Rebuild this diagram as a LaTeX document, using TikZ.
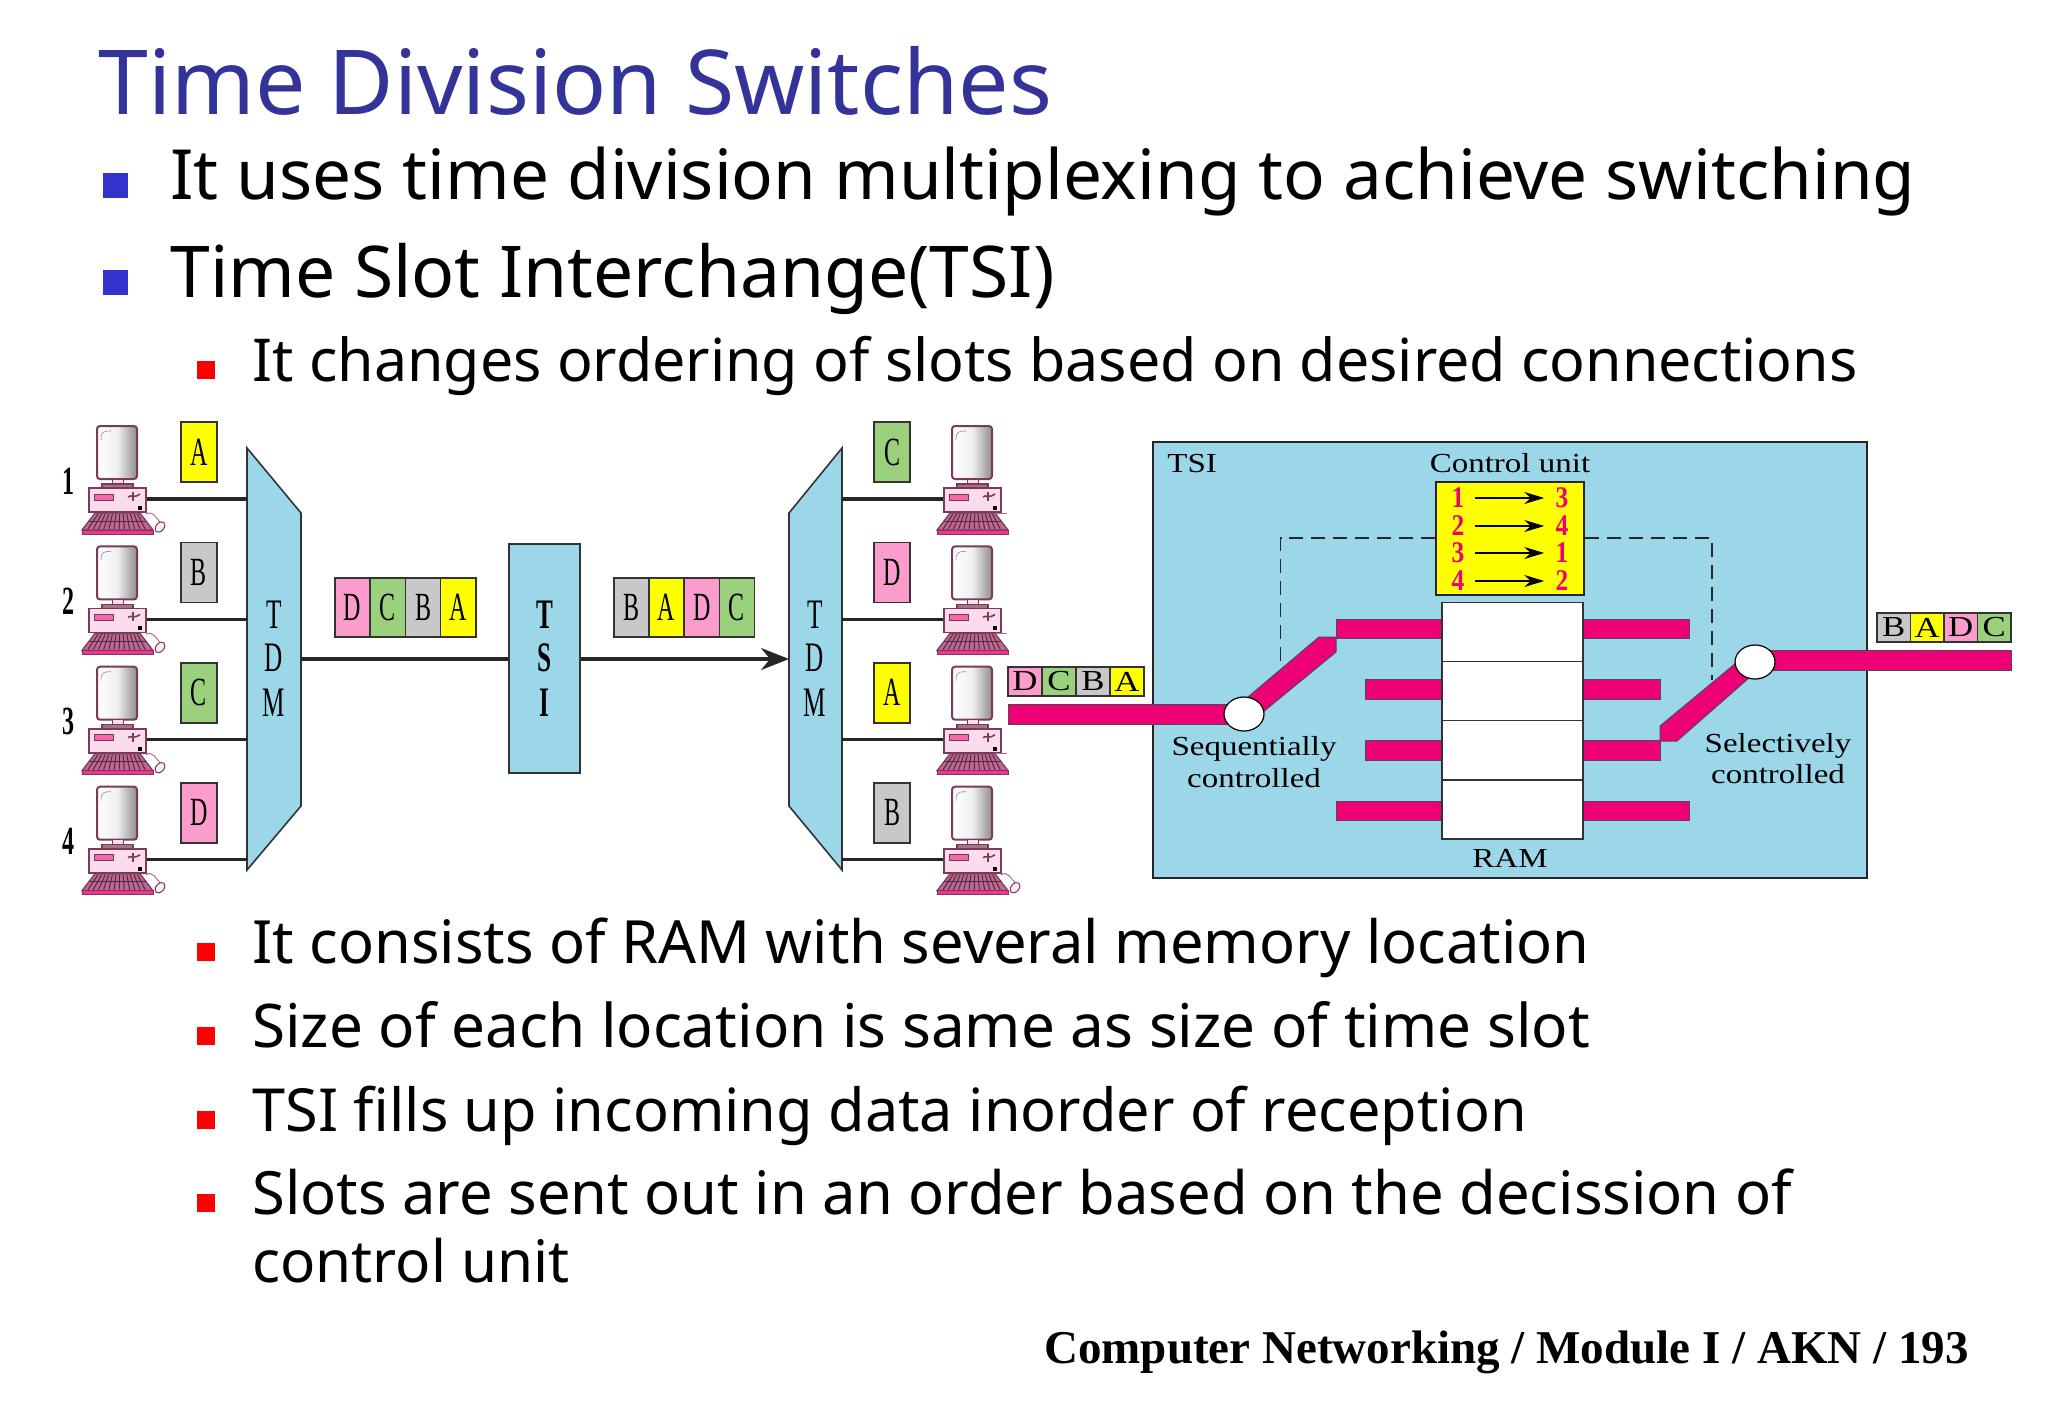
\documentclass[tikz,border=0pt]{standalone}
\usepackage{fontspec}
\usetikzlibrary{arrows.meta,shapes.geometric}
\setmainfont{Noto Sans}
\newfontfamily\figfont[FakeStretch=0.6]{Liberation Serif}
\newfontfamily\panelfont[FakeStretch=1.2]{Liberation Serif}
\newfontfamily\mapfont[FakeStretch=0.85]{Liberation Serif}
\newfontfamily\numfont{Liberation Serif}
\definecolor{titleblue}{HTML}{333399}
\definecolor{bulletblue}{HTML}{3333CC}
\definecolor{panelblue}{HTML}{9BD7E9}
\definecolor{barpink}{HTML}{EE0077}
\definecolor{slotA}{HTML}{FFFF00}
\definecolor{slotB}{HTML}{C8C8C8}
\definecolor{slotC}{HTML}{9BD07C}
\definecolor{slotD}{HTML}{FB9CCC}
\definecolor{pcline}{HTML}{7A3A58}
\definecolor{pccase}{HTML}{FBDCEC}
\tikzset{
	bigtext/.style={anchor=base west,inner sep=0pt,font=\fontsize{#1}{#1}\selectfont},
	subtext/.style={anchor=base west,inner sep=0pt,font=\fontsize{#1}{#1}\selectfont},
	bigbullet/.style={fill=bulletblue,inner sep=0pt,minimum size=12.5pt},
	subbullet/.style={fill=red,inner sep=0pt,minimum size=9pt},
	slotbox/.style={draw=black!80,line width=.8pt,inner sep=0pt,minimum width=18pt,minimum height=30pt,font=\figfont\fontsize{20}{20}\selectfont},
	cellbox/.style={draw=black!80,line width=.8pt,inner sep=0pt,minimum width=17.6pt,minimum height=29.5pt,font=\figfont\fontsize{20}{20}\selectfont},
	smallcell/.style={draw=black!80,line width=.6pt,inner sep=0pt,minimum width=17pt,minimum height=14.5pt,font=\panelfont\fontsize{14.5}{14.5}\selectfont},
	smallcellb/.style={smallcell,minimum width=16.75pt},
	wire/.style={draw=black!85,line width=1.6pt},
	muxbody/.style={draw=black!80,line width=.8pt,fill=panelblue},
	muxtext/.style={inner sep=0pt,font=\figfont\fontsize{21}{21}\selectfont},
	panellabel/.style={inner sep=0pt,anchor=base,font=\panelfont\fontsize{13.75}{13.75}\selectfont},
	bar/.style={draw=black!70,line width=.5pt,fill=barpink},
	ramcell/.style={draw=black!80,line width=.8pt,fill=white,inner sep=0pt,minimum width=70.7pt,minimum height=29.5pt},
	mapnum/.style={inner sep=0pt,text=barpink,font=\mapfont\bfseries\fontsize{15}{15}\selectfont},
	switchpt/.style={ellipse,draw=black,line width=.6pt,fill=white,inner sep=0pt,minimum width=20pt,minimum height=17pt},
	computer/.pic={
		\draw[pcline,line width=1pt,rounded corners=1.5pt,left color=white,right color=black!45,middle color=black!6] (16,0) rectangle (56,53);
		\draw[black!45,line width=.3pt] (20,14) .. controls (20,6) and (22,5) .. (30,5);
		\draw[pcline,line width=.4pt,fill=pccase] (31,53) rectangle (42,58);
		\draw[pcline,line width=.6pt,fill=pcline!70] (21,58) rectangle (52,62);
		\node[draw=pcline,line width=.8pt,fill=pccase,inner sep=0pt,minimum width=28.5pt,minimum height=12pt] (case) at (36.5,74) {};
		\draw[pcline,line width=.5pt,fill=barpink!60] (13,68) rectangle (32,74);
		\draw[pcline,line width=.8pt] (47,71) .. controls (50,68) and (52,73) .. (59,68);
		\draw[pcline,line width=.8pt] (52,66) -- (52,75);
		\fill[black] (57,80) rectangle (61,84);
		\draw[pcline,line width=.6pt,fill=barpink!35!pcline!70] (14,87) -- (59,87) -- (72,104) -- (1,104) -- cycle;
		\foreach \kx in {0,...,11}
			\draw[pcline!70!black,line width=.5pt] ({17+\kx*3.6},88) -- ({7+\kx*5.2},103);
		\draw[pcline!70!black,line width=.5pt] (8,95) -- (65,95);
		\draw[pcline,line width=.5pt,fill=barpink!80] (1,104) rectangle (72,108);
	},
	pcmouse/.pic={
		\draw[pcline!70,line width=.5pt] (65,88) .. controls (72,84) and (75,92) .. (79,96);
		\draw[pcline,line width=.5pt,fill=pccase!50,rotate around={-40:(79,101)}] (79,101) ellipse (4 and 6);
	},
	pcstub/.pic={
		\draw[pcline!70,line width=.5pt] (59,87) -- (71,87);
	},
}
\begin{document}
\begin{tikzpicture}[x=.5pt,y=-.5pt]
	\useasboundingbox (0,0) rectangle (2048,1418);
	% texts of the slide
	\node[anchor=base west,inner sep=0pt,text=titleblue,font=\fontsize{44.8}{44.8}\selectfont] (title) at (98,114) {Time Division Switches};
	\node[bigbullet] (dotA) at (115,185) {};
	\node[bigtext=34.6] (lineA) at (170,199) {It uses time division multiplexing to achieve switching};
	\node[bigbullet] (dotB) at (115,282) {};
	\node[bigtext=35.7] (lineB) at (170,297) {Time Slot Interchange(TSI)};
	\node[subbullet] (dotC) at (206,370) {};
	\node[subtext=29.55] (lineC) at (252,381) {It changes ordering of slots based on desired connections};
	%
	\node[subbullet] (dotD) at (206,952) {};
	\node[subtext=29.8] (lineD) at (252,963) {It consists of RAM with several memory location};
	\node[subbullet] (dotE) at (206,1036) {};
	\node[subtext=30.1] (lineE) at (252,1047) {Size of each location is same as size of time slot};
	\node[subbullet] (dotF) at (206,1120) {};
	\node[subtext=29.7] (lineF) at (252,1131) {TSI fills up incoming data inorder of reception};
	\node[subbullet] (dotG) at (206,1203) {};
	\node[subtext=29.85] (lineG) at (252,1214) {Slots are sent out in an order based on the decission of};
	\node[subtext=29.2] (lineH) at (252,1282) {control unit};
	\node[anchor=base east,inner sep=0pt,font=\numfont\bfseries\fontsize{23.5}{23.5}\selectfont] (footer) at (1969,1363) {Computer Networking / Module I / AKN / 193};
	% the two multiplexers and the TSI box
	\draw[muxbody] (247,448) -- (301,513) -- (301,806) -- (247,870) -- cycle;
	\draw[muxbody] (842,448) -- (789,513) -- (789,806) -- (842,870) -- cycle;
	\node[draw=black!80,line width=.8pt,fill=panelblue,minimum width=35.5pt,minimum height=114.5pt,inner sep=0pt] (tsibox) at (544.5,658.5) {};
	\foreach \lab/\yy in {T/615,D/658,M/703} {
		\node[muxtext] (muxL\lab) at (274,\yy) {\lab};
		\node[muxtext] (muxR\lab) at (815,\yy) {\lab};
	}
	\foreach \lab/\yy in {T/615,S/658,I/703}
		\node[muxtext,font=\figfont\bfseries\fontsize{21}{21}\selectfont] (tsi\lab) at (544.5,\yy) {\lab};
	\coordinate (muxLout) at (301,659);
	\coordinate (muxRin) at (789,659);
	\draw[wire] (muxLout) -- (tsibox.west |- muxLout);
	\draw[wire,-{Stealth[length=14pt,width=11pt]}] (tsibox.east |- muxRin) -- (muxRin);
	% the computers on both sides
	\foreach \i/\yy/\lab/\labR in {1/0/A/C,2/120.4/B/D,3/240.7/C/A,4/360.7/D/B} {
		\pic (pcL\i) at (81,426+\yy) {computer};
		\pic (pcLm\i) at (81,426+\yy) {pcmouse};
		\pic (pcR\i) at (936,426+\yy) {computer};
		\coordinate (muxLin\i) at (247,499+\yy);
		\coordinate (muxRout\i) at (842,499+\yy);
		\draw[wire] (pcL\i case.east |- muxLin\i) -- (muxLin\i);
		\draw[wire] (muxRout\i) -- (pcR\i case.west |- muxRout\i);
		\node[slotbox,fill=slot\lab] (slotL\i) at (199,452+\yy) {\lab};
		\node[slotbox,fill=slot\labR] (slotR\i) at (892,452+\yy) {\labR};
		\node[inner sep=0pt,font=\figfont\bfseries\fontsize{20}{20}\selectfont] (num\i) at (68,481+\yy) {\i};
	}
	\foreach \i/\yy in {1/0,2/120.4,3/240.7}
		\pic (pcRs\i) at (936,426+\yy) {pcstub};
	\pic (pcRm4) at (936,786.7) {pcmouse};
	% slot rows next to the main line
	\foreach \lab [count=\n from 0] in {D,C,B,A}
		\node[cellbox,fill=slot\lab] (rowA\lab) at ({352.6+35.2*\n},607.5) {\lab};
	\foreach \lab [count=\n from 0] in {B,A,D,C}
		\node[cellbox,fill=slot\lab] (rowB\lab) at ({631.3+35.2*\n},607.5) {\lab};
	%
	% the TSI panel
	\node[draw=black!85,line width=.8pt,fill=panelblue,minimum width=357pt,minimum height=218pt,inner sep=0pt] (panel) at (1510,660) {};
	\node[panellabel,anchor=base west] (panelname) at (1167,472) {TSI};
	\node[panellabel] (ctrlname) at (1510,472) {Control unit};
	\node[panellabel] (ramname) at (1510,867) {RAM};
	\node[panellabel] (seqA) at (1254,755) {Sequentially};
	\node[panellabel] (seqB) at (1254,787) {controlled};
	\node[panellabel] (selA) at (1778,752) {Selectively};
	\node[panellabel] (selB) at (1778,783) {controlled};
	%
	\node[draw=black!85,line width=.8pt,fill=slotA,minimum width=74pt,minimum height=56.5pt,inner sep=0pt] (ctrl) at (1510,538.5) {};
	\coordinate (dashLtop) at (1280.6,538);
	\coordinate (dashLend) at (1280.6,667);
	\coordinate (dashRtop) at (1712,538);
	\coordinate (dashRend) at (1712,680);
	\draw[black!85,line width=.8pt,dash pattern=on 7pt off 4pt] (ctrl.west |- dashLtop) -- (dashLtop) -- (dashLend);
	\draw[black!85,line width=.8pt,dash pattern=on 7pt off 4pt] (ctrl.east |- dashRtop) -- (dashRtop) -- (dashRend);
	\foreach \i/\a/\b/\yy in {1/1/3/498,2/2/4/526,3/3/1/553,4/4/2/581} {
		\node[mapnum] (mapA\i) at (1458,\yy) {\a};
		\node[mapnum] (mapB\i) at (1562,\yy) {\b};
		\draw[black,line width=.7pt,shorten <=5pt,shorten >=5.5pt,-{Stealth[length=10pt,width=6pt]}] (mapA\i) -- (mapB\i);
	}
	% the bars, then the RAM over them
	\draw[bar] (1336,619) rectangle (1442,638);
	\draw[bar] (1365,679) rectangle (1442,699);
	\draw[bar] (1365,740) rectangle (1442,760);
	\draw[bar] (1336,801) rectangle (1442,820);
	\draw[bar] (1583,619) rectangle (1689,638);
	\draw[bar] (1583,679) rectangle (1660,699);
	\draw[bar] (1583,801) rectangle (1689,820);
	\draw[bar] (1660,726) -- (1736,663) -- (1750,677) -- (1677,741) -- (1660,741) -- cycle;
	\draw[bar] (1583,740) rectangle (1660,760);
	\draw[bar] (1248,697) -- (1319,637) -- (1336,637) -- (1336,652) -- (1263,712) -- cycle;
	\draw[bar] (1008,704) rectangle (1244,724);
	\draw[bar] (1755,650) rectangle (2011,670);
	\foreach \i/\yy in {1/632,2/691,3/750,4/809.5}
		\node[ramcell] (ram\i) at (1512.5,\yy) {};
	\node[switchpt] (swL) at (1244,714) {};
	\node[switchpt] (swR) at (1755,662) {};
	%
	\foreach \lab [count=\n from 0] in {D,C,B,A}
		\node[smallcell,fill=slot\lab] (tinyA\lab) at ({1025+34*\n},681.5) {\lab};
	\foreach \lab [count=\n from 0] in {B,A,D,C}
		\node[smallcellb,fill=slot\lab] (tinyB\lab) at ({1893.7+33.5*\n},627.5) {\lab};
\end{tikzpicture}
\end{document}
